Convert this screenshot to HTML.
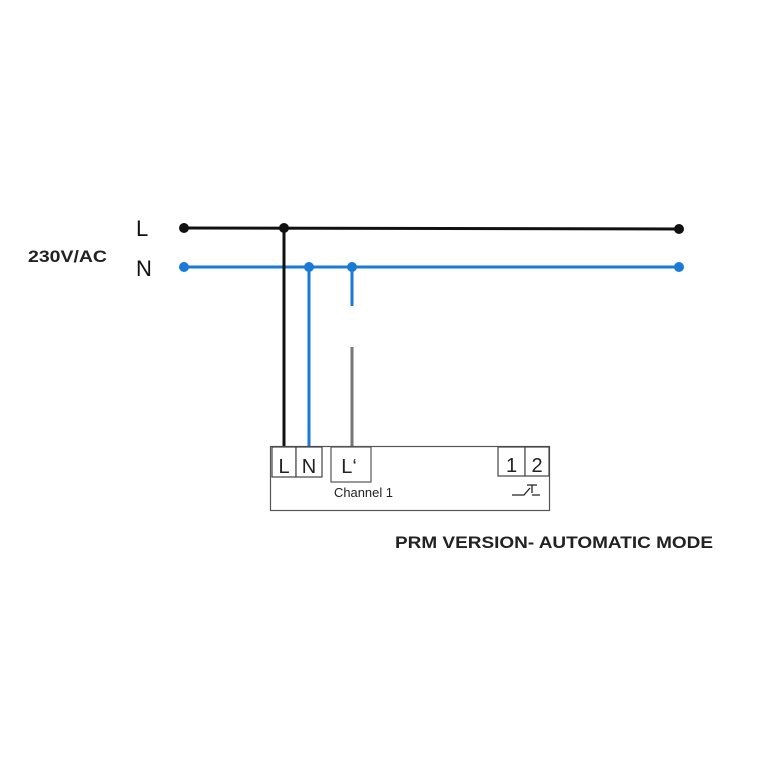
<!DOCTYPE html>
<html><head><meta charset="utf-8"><style>
html,body{margin:0;padding:0;background:#fff;width:767px;height:767px;overflow:hidden}
</style></head><body>
<svg width="767" height="767" viewBox="0 0 767 767" xmlns="http://www.w3.org/2000/svg" font-family="Liberation Sans, Arial, sans-serif">
<rect width="767" height="767" fill="#fff"/>
<text x="28" y="262" font-size="17" font-weight="bold" fill="#222" textLength="79" lengthAdjust="spacingAndGlyphs">230V/AC</text>
<text x="136" y="236" font-size="22" fill="#111">L</text>
<text x="136" y="276" font-size="22" fill="#111">N</text>
<line x1="184" y1="228" x2="679" y2="229" stroke="#111" stroke-width="3"/>
<circle cx="184" cy="228" r="5" fill="#111"/>
<circle cx="284" cy="228" r="5" fill="#111"/>
<circle cx="679" cy="229" r="5" fill="#111"/>
<line x1="184" y1="267" x2="679" y2="267" stroke="#1a7ad8" stroke-width="3"/>
<line x1="284" y1="228" x2="284" y2="447" stroke="#111" stroke-width="3"/>
<circle cx="184" cy="267" r="5" fill="#1a7ad8"/>
<circle cx="679" cy="267" r="5" fill="#1a7ad8"/>
<circle cx="309" cy="267" r="5" fill="#1a7ad8"/>
<circle cx="352" cy="267" r="5" fill="#1a7ad8"/>
<line x1="309" y1="267" x2="309" y2="447" stroke="#1a7ad8" stroke-width="3"/>
<line x1="352" y1="267" x2="352" y2="306" stroke="#1a7ad8" stroke-width="3"/>
<line x1="352" y1="347" x2="352" y2="446" stroke="#777" stroke-width="3"/>
<rect x="270.5" y="446.5" width="279" height="64" fill="none" stroke="#555" stroke-width="1.2"/>
<rect x="272" y="447" width="24" height="30" fill="#fff" stroke="#444" stroke-width="1.2"/>
<rect x="296" y="447" width="26" height="30" fill="#fff" stroke="#444" stroke-width="1.2"/>
<rect x="331" y="447" width="40" height="35" fill="#fff" stroke="#555" stroke-width="1.2"/>
<rect x="498" y="447" width="27" height="29" fill="#fff" stroke="#444" stroke-width="1.2"/>
<rect x="525" y="447" width="24" height="29" fill="#fff" stroke="#444" stroke-width="1.2"/>
<text x="284" y="473" font-size="20" text-anchor="middle" fill="#222">L</text>
<text x="309" y="473" font-size="20" text-anchor="middle" fill="#222">N</text>
<text x="349" y="473" font-size="20" text-anchor="middle" fill="#222">L‘</text>
<text x="511.5" y="472" font-size="20" text-anchor="middle" fill="#222">1</text>
<text x="537" y="472" font-size="20" text-anchor="middle" fill="#222">2</text>
<text x="334" y="497" font-size="13" fill="#222" textLength="59" lengthAdjust="spacingAndGlyphs">Channel 1</text>
<path d="M512 495 L524 495 L530 488 M527 485 L537 485 M532 485 L532 493 M532 495 L540 495" fill="none" stroke="#222" stroke-width="1.3"/>
<text x="395" y="548" font-size="17" font-weight="bold" fill="#222" textLength="318" lengthAdjust="spacingAndGlyphs">PRM VERSION- AUTOMATIC MODE</text>
</svg>
</body></html>
